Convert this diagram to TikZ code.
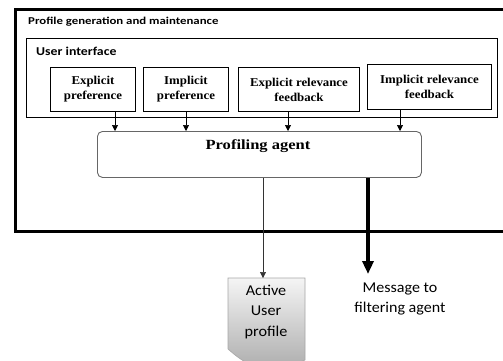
\documentclass[tikz,border=0pt]{standalone}
\usepackage{fontspec}
\setmainfont{Liberation Serif}
\newfontfamily\calib{Carlito}
\usetikzlibrary{arrows.meta}
\begin{document}
\begin{tikzpicture}[x=1pt,y=-1pt,
  inbox/.style={draw, line width=0.9pt, anchor=north west, inner sep=0pt,
    align=center, font=\bfseries\addfontfeature{FakeStretch=1.07}\fontsize{12}{15}\selectfont},
  feed/.style={-{Triangle[length=6pt,width=6pt]}, line width=0.7pt},
  heavy/.style={-{Triangle[length=13pt,width=11pt]}, line width=3.6pt},
  lbl/.style={anchor=north west, inner sep=0pt}]
\useasboundingbox (0,0) rectangle (503,360);
\clip (0,0) rectangle (503,360);

% outer container
\node[draw, line width=2.6pt, anchor=north west, minimum width=500pt,
  minimum height=222pt, inner sep=0pt] (outer) at (14,8) {};
\node[lbl, font=\calib\bfseries\addfontfeature{FakeStretch=1.22}\fontsize{10.5}{12}\selectfont]
  (outerlbl) at (28,16.5) {Profile generation and maintenance};

% user interface container
\node[draw, line width=0.8pt, anchor=north west, minimum width=471pt,
  minimum height=79pt, inner sep=0pt] (ui) at (26,38) {};
\node[lbl, font=\calib\bfseries\addfontfeature{FakeStretch=1.15}\fontsize{12}{14}\selectfont]
  (uilbl) at (36,47) {User interface};

% feedback sources
\node[inbox, minimum width=85pt, minimum height=44pt] (ep) at (50,67) {Explicit\\preference};
\node[inbox, minimum width=85pt, minimum height=44pt] (ip) at (143,67) {Implicit\\preference};
\node[inbox, minimum width=121pt, minimum height=44pt] (erf) at (238,67) {Explicit relevance\\feedback};
\node[inbox, minimum width=124pt, minimum height=45pt] (irf) at (367,64) {Implicit relevance\\feedback};

% profiling agent
\node[draw=gray!80!black, line width=0.9pt, rounded corners=5pt, anchor=north west,
  minimum width=324pt, minimum height=46pt, inner sep=0pt] (pa) at (97,131) {};
\node[font=\bfseries\addfontfeature{FakeStretch=1.18}\fontsize{14}{16}\selectfont, inner sep=0pt]
  (patext) at (258,146) {Profiling agent};

% arrows into the agent
\coordinate (a1) at (115,131);
\coordinate (a2) at (186,131);
\coordinate (a3) at (288,131);
\coordinate (a4) at (400,131);
\draw[feed] (ep.south -| a1) -- (a1);
\draw[feed] (ip.south -| a2) -- (a2);
\draw[feed] (erf.south -| a3) -- (a3);
\draw[feed] (irf.south -| a4) -- (a4);

% active user profile document
\path[draw=gray!70, line width=0.6pt, top color=gray!8, bottom color=gray!65]
  (228,278) -- (305,278) -- (305,360)
  .. controls (295,364) and (285,370) .. (265,369)
  .. controls (250,367) and (238,358) .. (228,349) -- cycle;
\node[font=\calib\addfontfeature{FakeStretch=1.08}\fontsize{15}{20.5}\selectfont, align=center, inner sep=0pt]
  (aup) at (266,312) {Active\\User\\profile};
\coordinate (aupTop) at (263,278);
\draw[feed, line width=0.6pt, draw=gray!40!black] (pa.south -| aupTop) -- (aupTop);

% message to filtering agent
\node[font=\calib\addfontfeature{FakeStretch=1.07}\fontsize{15}{19.5}\selectfont, align=center, inner sep=0pt]
  (msg) at (400,299) {Message to\\filtering agent};
\coordinate (msgTop) at (368,274);
\draw[heavy] (pa.south -| msgTop) -- (msgTop);
\end{tikzpicture}
\end{document}
